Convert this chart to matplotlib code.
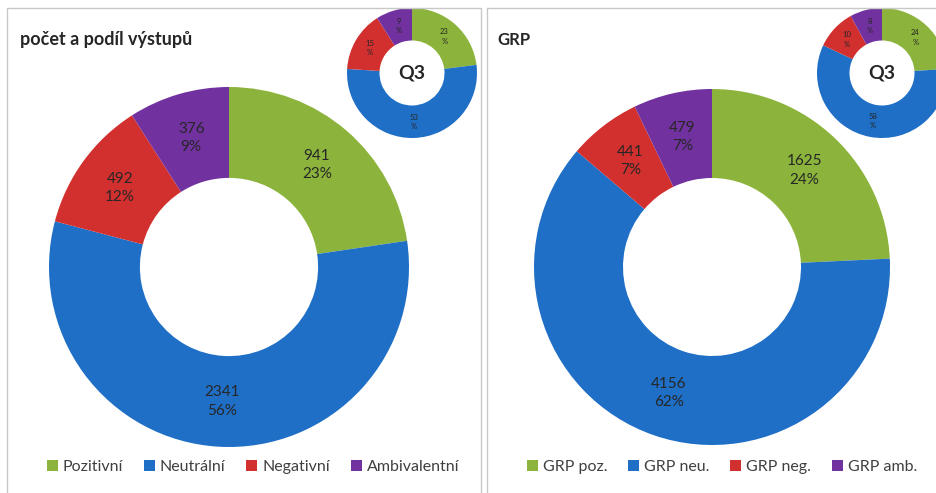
import numpy as np
import matplotlib.pyplot as plt
from matplotlib.patches import Patch, Rectangle

plt.rcParams['font.family'] = ['Lato', 'DejaVu Sans']

# left panel: count and share of outputs
vystupy_labels = ['Pozitivní', 'Neutrální', 'Negativní', 'Ambivalentní']
vystupy_counts = [941, 2341, 492, 376]
vystupy_pct = [23, 56, 12, 9]
vystupy_q3_pct = [23, 53, 15, 9]

# right panel: GRP
grp_labels = ['GRP poz.', 'GRP neu.', 'GRP neg.', 'GRP amb.']
grp_counts = [1625, 4156, 441, 479]
grp_pct = [24, 62, 7, 7]
grp_q3_pct = [24, 58, 10, 8]

colors = ['#8cb43c', '#1f6fc6', '#d2302f', '#7132a0']

W, H = 936, 493
fig = plt.figure(figsize=(W / 100, H / 100), dpi=100)
fig.patch.set_facecolor('white')


def px_axes(cx, cy, r):
    # axes box given center/radius in pixels (y from top)
    return fig.add_axes([(cx - r) / W, (H - cy - r) / H, 2 * r / W, 2 * r / H])


def donut(ax, values, texts, fs, hole=0.5):
    ax.pie(values, colors=colors, startangle=90, counterclock=False,
           radius=1, wedgeprops=dict(width=1 - hole, edgecolor='none'))
    # put labels in the middle of the ring
    total = sum(values)
    ang = 90.0
    mid_r = (1 + hole) / 2
    for v, t in zip(values, texts):
        a = np.deg2rad(ang - v / total * 180)
        ax.text(mid_r * np.cos(a), mid_r * np.sin(a), t, ha='center',
                va='center', fontsize=fs, color='#262626', linespacing=1.4)
        ang -= v / total * 360
    ax.set_xlim(-1, 1)
    ax.set_ylim(-1, 1)
    ax.set_aspect('equal')
    ax.axis('off')


# panel frames
for x0, x1 in [(7, 481), (487, 940)]:
    fig.patches.append(Rectangle((x0 / W, -0.05), (x1 - x0) / W, (H - 8) / H + 0.05,
                                 transform=fig.transFigure, fill=False,
                                 edgecolor='#c8c8c8', linewidth=1))

# big donuts
ax1 = px_axes(229, 267, 180)
donut(ax1, vystupy_counts,
      [f'{c}\n{p}%' for c, p in zip(vystupy_counts, vystupy_pct)], 11, hole=0.495)
ax2 = px_axes(712, 267, 178)
donut(ax2, grp_counts,
      [f'{c}\n{p}%' for c, p in zip(grp_counts, grp_pct)], 11, hole=0.5)

# small Q3 donuts
for cx, vals in [(412, vystupy_q3_pct), (882, grp_q3_pct)]:
    axq = px_axes(cx, 73, 65)
    donut(axq, vals, [f'{p}\n%' for p in vals], 5.5, hole=0.5)
    axq.text(0, 0, 'Q3', ha='center', va='center', fontsize=14,
             fontweight='bold', color='#262626')

# titles
fig.text(20 / W, 1 - 40 / H, 'počet a podíl výstupů', fontsize=13,
         fontweight='bold', color='#262626', va='center')
fig.text(497 / W, 1 - 40 / H, 'GRP', fontsize=12,
         fontweight='bold', color='#262626', va='center')

# legends
for labels, cx in [(vystupy_labels, 253), (grp_labels, 722)]:
    handles = [Patch(facecolor=c, edgecolor='none', label=l)
               for c, l in zip(colors, labels)]
    fig.legend(handles=handles, loc='center', ncol=4,
               bbox_to_anchor=(cx / W, 1 - 467 / H), frameon=False,
               fontsize=11.5, handlelength=0.7, handleheight=0.7,
               handletextpad=0.3, columnspacing=1.3, labelcolor='#404040')

fig.savefig('out.png', dpi=100)
